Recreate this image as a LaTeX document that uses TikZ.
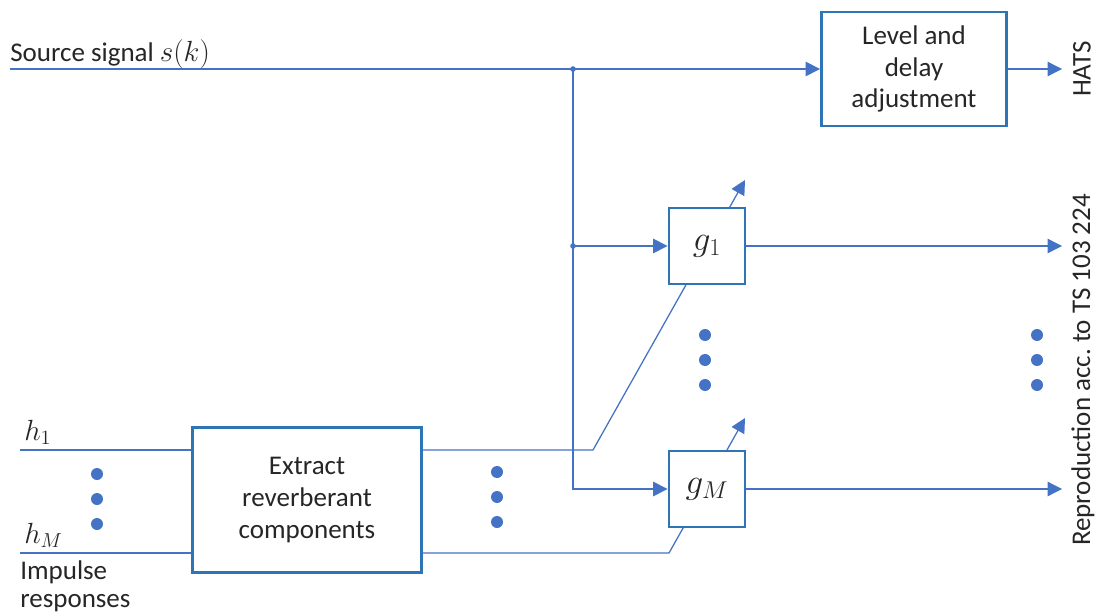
\documentclass[tikz,border=0pt]{standalone}
\usepackage{fontspec}
\setmainfont{Carlito}
\usepackage{tikz}
\usetikzlibrary{arrows.meta, positioning, backgrounds}
\definecolor{revline}{HTML}{4472C4}
\definecolor{revbox}{HTML}{2E75B6}
\definecolor{revtext}{HTML}{262626}

\begin{document}
\begin{tikzpicture}[x=0.025cm, y=-0.025cm,
  font=\fontsize{19.2}{22.7}\selectfont, text=revtext,
  box/.style={rectangle, draw=revbox, line width=2pt, fill=white,
              align=center, inner sep=2pt},
  gbox/.style={box, minimum width=1.9cm, minimum height=1.9cm,
               font=\fontsize{23}{26}\selectfont},
  line/.style={draw=revline, line width=0.9pt},
  arr/.style={line, -{Triangle[length=3.6mm, width=3.6mm]}},
  lbl/.style={inner sep=0pt},
  mlbl/.style={lbl, font=\fontsize{22}{26}\selectfont},
  dot/.style={fill=revline}]
  \useasboundingbox (0,0) rectangle (1098,616);
  % boxes
  \node[box, minimum width=4.625cm, minimum height=2.85cm] (lev) at (914,69)
    {Level and\\delay\\adjustment};
  \node[gbox] (g1) at (707,246) {$g_1$};
  \node[gbox] (gM) at (707,489) {$g_M$};
  \node[box, minimum width=5.725cm, minimum height=3.625cm] (ext) at (307,500)
    {Extract\\reverberant\\components};
  % labels
  \node[lbl, anchor=base west] (srclbl) at (10,62) {Source signal $s(k)$};
  \node[lbl, rotate=90] (hats) at (1082,69) {HATS};
  \node[lbl, rotate=90] (repro) at (1083,370) {Reproduction acc.\ to TS 103 224};
  \node[mlbl, anchor=base west] (h1lbl) at (24,440) {$h_1$};
  \node[mlbl, anchor=base west] (hMlbl) at (24,543) {$h_M$};
  \node[lbl, anchor=north west, align=left, font=\fontsize{19.2}{20.5}\selectfont]
    (imp) at (20,560) {Impulse\\responses};
  % points
  \coordinate (src) at (10,69);
  \coordinate (j1) at (573,69);
  \coordinate (j2) at (573,246);
  \coordinate (h1) at (20,450);
  \coordinate (hM) at (20,553);
  \coordinate (k1) at (593,450);
  \coordinate (t1) at (745,180);
  \coordinate (kM) at (669,553);
  \coordinate (tM) at (745,418);
  \coordinate (o0) at (1062,69);
  \coordinate (o1) at (1062,246);
  \coordinate (oM) at (1062,489);
  % signal paths
  \draw[arr] (src) -- (lev.west);
  \draw[arr] (lev.east) -- (o0);
  \draw[line] (j1) -- (j2);
  \draw[arr] (j2) -- (g1.west);
  \draw[arr] (j2) |- (gM.west);
  \fill[revline] (j1) circle (0.07cm) (j2) circle (0.07cm);
  \draw[arr] (g1.east) -- (o1);
  \draw[arr] (gM.east) -- (oM);
  \draw[line] (h1) -- (ext.west |- h1);
  \draw[line] (hM) -- (ext.west |- hM);
  \begin{scope}[on background layer]
    \draw[arr] (ext.east |- k1) -- (k1) -- (t1);
    \draw[arr] (ext.east |- kM) -- (kM) -- (tM);
  \end{scope}
  % dots
  \foreach \x/\y in {97/474, 497/472, 705/335, 1037/335} {
    \foreach \d in {0,25,50}
      \fill[dot] (\x,\y+\d) circle (0.15cm);
  }
\end{tikzpicture}
\end{document}
